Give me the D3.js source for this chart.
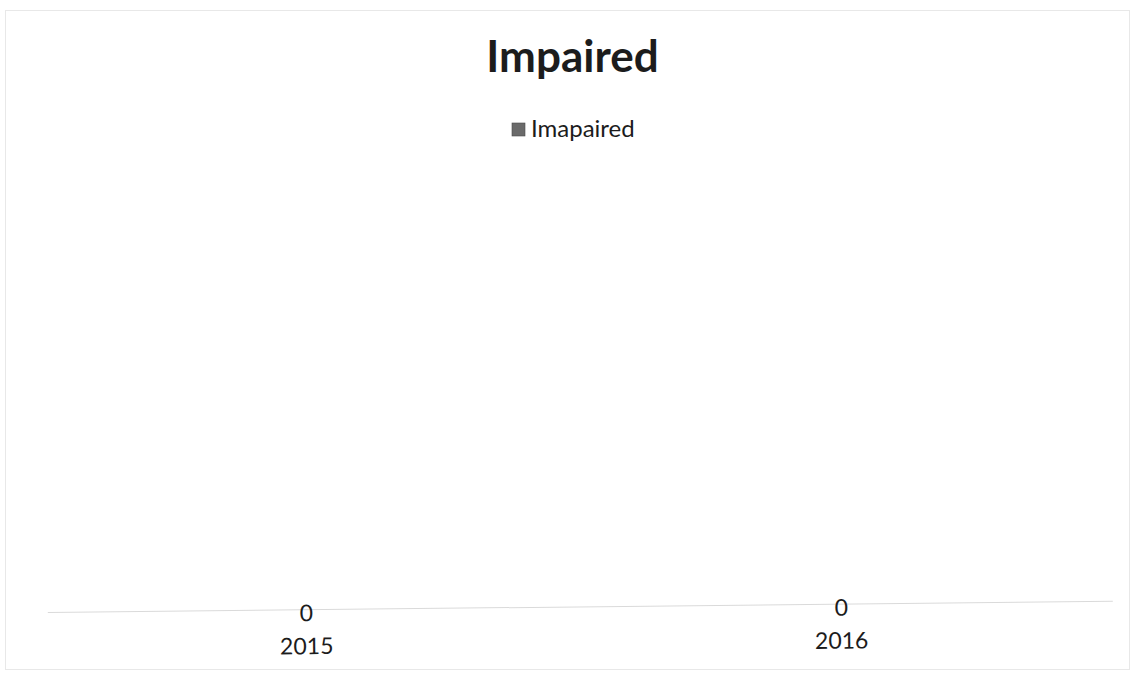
<!DOCTYPE html>
<html>
<head>
<meta charset="utf-8">
<script src="https://cdn.jsdelivr.net/npm/d3@7"></script>
<style>
  html, body { margin: 0; padding: 0; background: #fff; }
  svg { display: block; font-family: Lato, "Open Sans", sans-serif; }
</style>
</head>
<body>
<script>
// chart data
const categories = ["2015", "2016"]
const seriesName = "Imapaired"
const values = [0, 0]
const chartTitle = "Impaired"

const width = 1134, height = 676
const margin = { top: 150, right: 28, bottom: 69, left: 36 }

const svg = d3.select("body").append("svg")
    .attr("width", width)
    .attr("height", height)

// faint outer frame of the scanned chart area
svg.append("rect")
    .attr("x", 5.5).attr("y", 10.5)
    .attr("width", 1124).attr("height", 659)
    .attr("fill", "none")
    .attr("stroke", "#e8e8e8")
    .attr("stroke-width", 1)

// the scan is slightly skewed, so the plot sits in a rotated group
const g = svg.append("g")
    .attr("transform", `rotate(-0.6 ${width / 2} ${height / 2})`)

const x = d3.scalePoint()
    .domain(categories)
    .range([margin.left, width - margin.right])
    .padding(0.5)

const y = d3.scaleLinear()
    .domain([0, 1])
    .range([height - margin.bottom, margin.top])

// baseline / category axis
g.append("line")
    .attr("x1", 45).attr("x2", 1110)
    .attr("y1", y(0)).attr("y2", y(0))
    .attr("stroke", "#dadada")
    .attr("stroke-width", 1)

// bars (zero height)
const barW = 260
g.append("g")
    .selectAll("rect")
    .data(values)
    .join("rect")
    .attr("x", (d, i) => x(categories[i]) - barW / 2)
    .attr("y", d => y(d))
    .attr("width", barW)
    .attr("height", d => y(0) - y(d))
    .attr("fill", "#6a6a6a")

// data labels
g.append("g")
    .selectAll("text")
    .data(values)
    .join("text")
    .attr("x", (d, i) => x(categories[i]))
    .attr("y", d => y(d) + 11.5)
    .attr("text-anchor", "middle")
    .attr("font-size", 23)
    .attr("fill", "#1c1c1c")
    .text(d => d)

// category labels
g.append("g")
    .selectAll("text")
    .data(categories)
    .join("text")
    .attr("x", d => x(d))
    .attr("y", y(0) + 44.5)
    .attr("text-anchor", "middle")
    .attr("font-size", 23)
    .attr("fill", "#1c1c1c")
    .text(d => d)

// title
svg.append("text")
    .attr("x", 572.5)
    .attr("y", 72)
    .attr("text-anchor", "middle")
    .attr("font-size", 44)
    .attr("font-weight", "bold")
    .attr("fill", "#1c1c1c")
    .text(chartTitle)

// legend
const legend = svg.append("g").attr("transform", "translate(512,123)")
legend.append("rect")
    .attr("width", 13).attr("height", 13)
    .attr("fill", "#6a6a6a")
    .attr("stroke", "#4a4a4a")
    .attr("stroke-width", 0.6)
legend.append("text")
    .attr("x", 19)
    .attr("y", 14)
    .attr("font-size", 24)
    .attr("fill", "#1c1c1c")
    .text(seriesName)
</script>
</body>
</html>
